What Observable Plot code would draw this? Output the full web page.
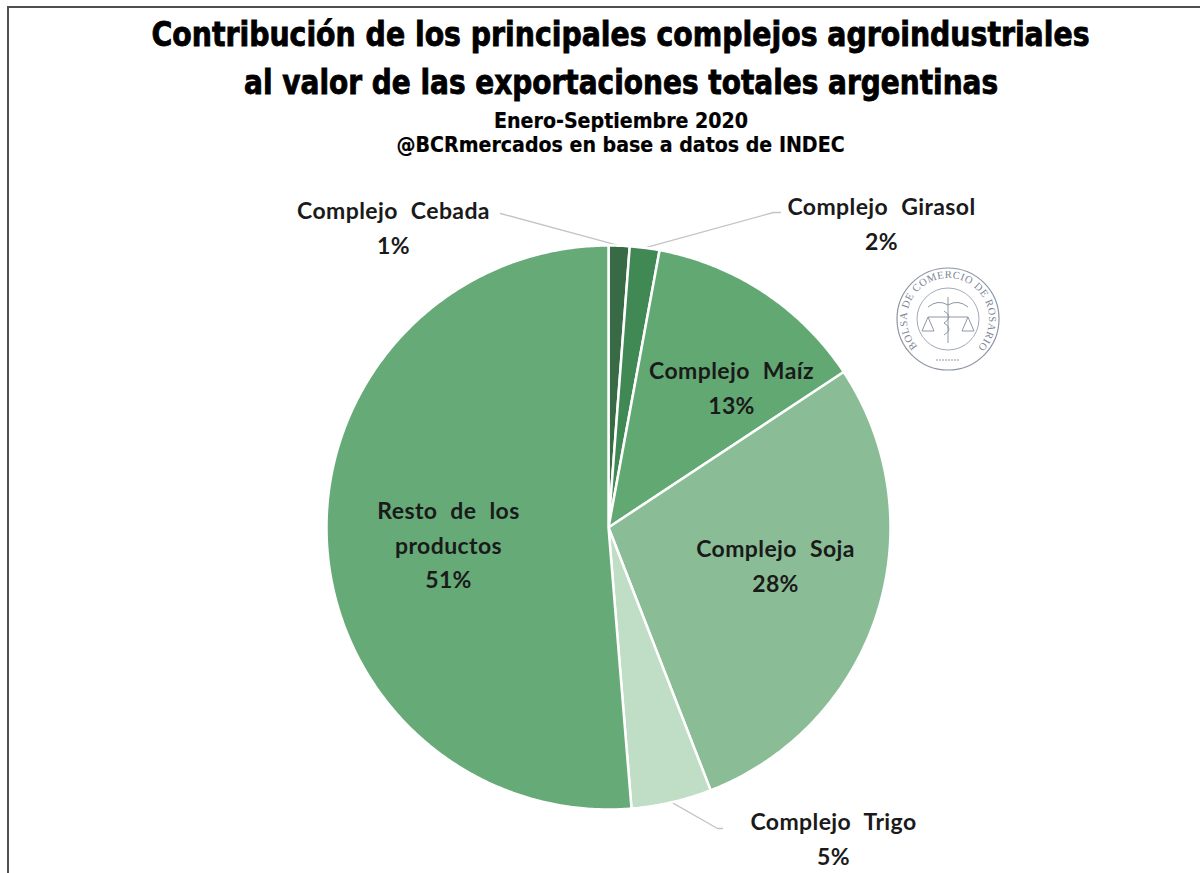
<!DOCTYPE html>
<html>
<head>
<meta charset="utf-8">
<script src="https://cdn.jsdelivr.net/npm/d3@7"></script>
<script src="https://cdn.jsdelivr.net/npm/@observablehq/plot@0.6"></script>
<style>
  body { margin: 0; background: #fff; }
  #wrap { position: relative; width: 1200px; height: 873px; overflow: hidden; background: #fff; }
  #frame { position: absolute; left: 7px; top: 6px; width: 1300px; height: 900px; border-left: 2px solid #505050; border-top: 2px solid #505050; }
  #head { position: absolute; left: 0; top: 0; width: 1242px; text-align: center; font-family: "DejaVu Sans", sans-serif; font-stretch: condensed; font-weight: bold; color: #000; }
  #head span { display: inline-block; transform-origin: 50% 50%; white-space: nowrap; }
  .t { font-size: 33px; line-height: 48px; -webkit-text-stroke: 0.8px #000; }
  .t1 { padding-top: 11px; }
  .s { font-size: 21px; line-height: 24px; -webkit-text-stroke: 0.2px #000; }
  .s1 { margin-top: 2px; }
  #chart { position: absolute; left: 0; top: 173px; }
  #logo { position: absolute; left: 893px; top: 264px; }
</style>
</head>
<body>
<div id="wrap">
  <div id="frame"></div>
  <div id="head">
    <div class="t t1"><span data-w="938">Contribución de los principales complejos agroindustriales</span></div>
    <div class="t"><span data-w="754">al valor de las exportaciones totales argentinas</span></div>
    <div class="s s1"><span data-w="254">Enero-Septiembre 2020</span></div>
    <div class="s"><span data-w="448">@BCRmercados en base a datos de INDEC</span></div>
  </div>
  <div id="chart"></div>
  <svg id="logo" width="110" height="110" viewBox="-55 -55 110 110">
    <defs><path id="ring" d="M -29 29 A 41 41 0 1 1 29 29"/></defs>
    <circle r="51" fill="none" stroke="#8d95a3" stroke-width="1.2"/>
    <circle r="31" fill="none" stroke="#a3aab6" stroke-width="1"/>
    <text font-family="Liberation Serif, serif" font-size="10.5" fill="#7c8594">
      <textPath href="#ring" startOffset="2" textLength="190" lengthAdjust="spacing">BOLSA DE COMERCIO DE ROSARIO</textPath>
    </text>
    <g stroke="#8f97a5" stroke-width="1" fill="none">
      <line x1="0" y1="-22" x2="0" y2="24"/>
      <path d="M -20 -12 Q -10 -20 0 -14 Q 10 -20 20 -12"/>
      <line x1="-20" y1="-2" x2="20" y2="-2"/>
      <path d="M -26 12 L -20 -2 L -14 12 Z M 14 12 L 20 -2 L 26 12 Z"/>
      <path d="M -4 -8 Q 6 -2 -4 4 Q 6 10 -4 16"/>
      <line x1="-12" y1="41" x2="12" y2="41" stroke-dasharray="2 1"/>
    </g>
  </svg>
</div>
<script>
// ---- data ----
const categories = ["Complejo Cebada", "Complejo Girasol", "Complejo Maíz", "Complejo Soja", "Complejo Trigo", "Resto de los productos"];
const shares = [1.2, 1.7, 12.8, 28.4, 4.6, 51.3];           // % of total exports
const labelNames = ["Complejo Cebada", "Complejo Girasol", "Complejo Maíz", "Complejo Soja", "Complejo Trigo", "Resto de los\nproductos"];

// ---- styles / layout ----
const sliceColors = ["#386b45", "#418954", "#62a873", "#8abd96", "#c0ddc6", "#66aa78"];
const R = 282;                       // pie radius in px
const W = 1200, H = 700, CX = 608, CY = 354;
// label block centers relative to pie center (px)
const labelOffset = [[-215, -302], [273, -306], [123, -142], [167, 36], [225, 309], [-160, 15]];
// leader lines for outside labels: [elbow, end] relative to center
const leaders = {0: [[-108, -314]], 1: [[165, -315], [172, -315]], 4: [[109, 301], [114, 301]]};

const arcs = d3.pie().sort(null).value(d => d)(shares);

// slice polygons
const slicePts = [];
arcs.forEach((a, i) => {
  slicePts.push({name: categories[i], x: 0, y: 0});
  const n = Math.max(2, Math.ceil((a.endAngle - a.startAngle) / (Math.PI / 360)));
  for (let k = 0; k <= n; k++) {
    const t = a.startAngle + (a.endAngle - a.startAngle) * k / n;
    slicePts.push({name: categories[i], x: R * Math.sin(t), y: -R * Math.cos(t)});
  }
});

// labels
const labels = arcs.map((a, i) => ({
  text: labelNames[i] + "\n" + Math.round(shares[i]) + "%",
  x: labelOffset[i][0], y: labelOffset[i][1]
}));

// leader lines
const leaderPts = [];
Object.entries(leaders).forEach(([i, pts]) => {
  const a = arcs[+i];
  const m = (a.startAngle + a.endAngle) / 2;
  leaderPts.push({id: i, x: R * Math.sin(m), y: -R * Math.cos(m)});
  pts.forEach(p => leaderPts.push({id: i, x: p[0], y: p[1]}));
});

const chart = Plot.plot({
  width: W, height: H,
  margin: 0,
  x: {domain: [-CX, W - CX], range: [0, W], axis: null},
  y: {domain: [-CY, H - CY], range: [0, H], axis: null},
  color: {domain: categories, range: sliceColors},
  style: {background: "transparent", wordSpacing: "7px", letterSpacing: "0.4px"},
  marks: [
    Plot.line(leaderPts, {x: "x", y: "y", z: "id", stroke: "#c4c4c4", strokeWidth: 1.3}),
    Plot.line(slicePts, {x: "x", y: "y", z: "name", fill: "name", stroke: "#fff", strokeWidth: 2.5, strokeLinejoin: "round", curve: "linear-closed"}),
    Plot.text(labels, {x: "x", y: "y", text: "text", fontSize: 23, fontWeight: "bold", fontFamily: "Lato, 'Open Sans', sans-serif", fill: "#1a1a1a", lineHeight: 1.5, textAnchor: "middle"})
  ]
});
document.getElementById("chart").appendChild(chart);

// fit header lines to their measured widths in the reference
document.querySelectorAll("#head span").forEach(s => {
  const w = s.getBoundingClientRect().width;
  const target = +s.dataset.w;
  if (w > 0) s.style.transform = `scaleX(${target / w})`;
});
</script>
</body>
</html>
